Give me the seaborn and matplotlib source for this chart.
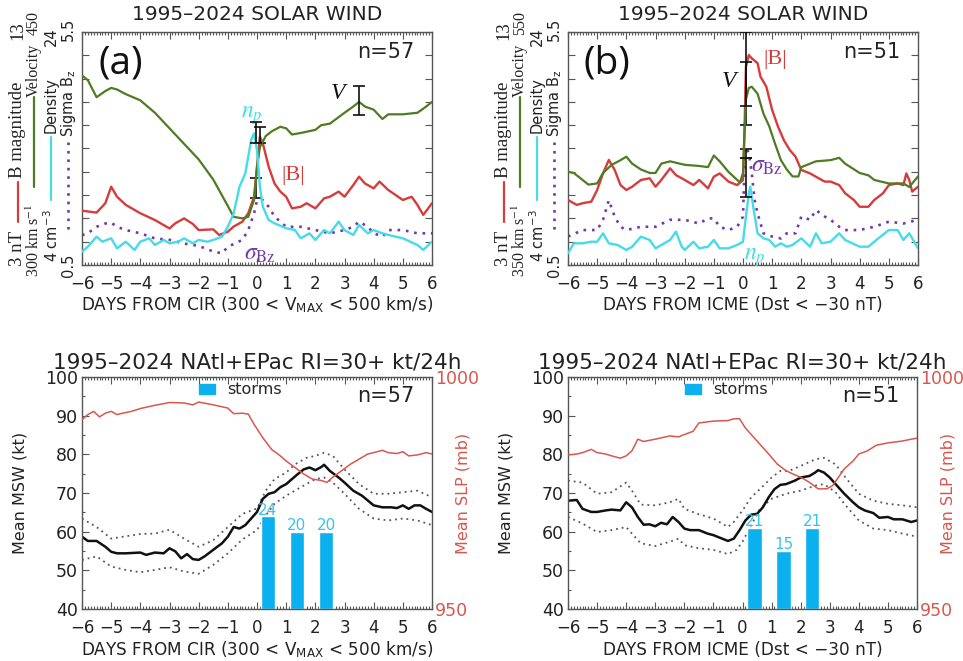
import numpy as np
import pandas as pd
import matplotlib
matplotlib.use("Agg")
import matplotlib.pyplot as plt
import seaborn as sns
from matplotlib.patches import Patch
from matplotlib.lines import Line2D
from matplotlib.ticker import MultipleLocator

sns.set_theme(style="white")
plt.rcParams["font.family"] = ["DejaVu Sans"]
plt.rcParams["mathtext.fontset"] = "stix"

# ---------------- DATA ----------------
# Panel (a): CIR superposed epoch, solar wind
a_V = [(-6, 422), (-5.8, 419), (-5.5, 408), (-5.2, 412), (-5, 414), (-4.8, 413), (-4.5, 410),
       (-4, 406), (-3.5, 398), (-3, 388), (-2.5, 378), (-2, 368), (-1.5, 355), (-1, 338),
       (-0.8, 331), (-0.5, 330), (-0.3, 331), (-0.1, 342), (0, 363), (0.1, 376), (0.3, 383),
       (0.5, 386), (0.8, 389), (1, 388), (1.2, 384), (1.5, 385), (2, 387), (2.2, 390),
       (2.5, 391), (3, 398), (3.3, 402), (3.5, 405), (3.7, 402), (4, 400), (4.3, 394),
       (4.5, 397), (5, 397), (5.5, 398), (5.8, 402), (6, 405)]
a_B = [(-6, 5.33), (-5.5, 5.25), (-5.2, 5.65), (-5, 6.36), (-4.8, 5.93), (-4.5, 5.58),
       (-4, 5.22), (-3.5, 4.93), (-3, 4.57), (-2.8, 4.79), (-2.5, 5.00), (-2.2, 4.76),
       (-2, 4.50), (-1.5, 4.53), (-1.3, 4.29), (-1, 4.43), (-0.8, 4.65), (-0.5, 4.86),
       (-0.3, 5.22), (-0.1, 5.93), (0, 7.22), (0.1, 8.51), (0.2, 8.22), (0.4, 7.22),
       (0.6, 6.50), (0.8, 6.15), (1, 5.93), (1.2, 5.43), (1.5, 5.50), (1.7, 5.65),
       (2, 5.43), (2.3, 5.86), (2.5, 5.93), (2.8, 6.15), (3, 5.93), (3.3, 6.43),
       (3.5, 6.79), (3.7, 6.50), (4, 6.29), (4.2, 6.58), (4.5, 6.22), (5, 5.79),
       (5.3, 5.93), (5.5, 5.58), (5.7, 5.15), (6, 5.65)]
a_N = [(-6, 5.14), (-5.8, 5.57), (-5.5, 6.43), (-5.3, 6.00), (-5, 6.29), (-4.8, 5.43),
       (-4.5, 6.00), (-4.2, 5.29), (-4, 6.00), (-3.7, 6.29), (-3.5, 5.72), (-3.2, 6.15),
       (-3, 5.86), (-2.7, 6.00), (-2.5, 6.29), (-2.2, 5.86), (-2, 6.15), (-1.7, 6.00),
       (-1.5, 6.15), (-1.2, 6.43), (-1, 7.29), (-0.8, 8.43), (-0.6, 10.72), (-0.4, 11.87),
       (-0.2, 14.73), (-0.1, 15.30), (0, 13.87), (0.1, 10.72), (0.2, 9.01), (0.4, 7.86),
       (0.6, 7.58), (1, 7.15), (1.3, 7.00), (1.5, 6.29), (1.8, 6.72), (2, 6.15),
       (2.3, 7.00), (2.5, 6.72), (2.8, 7.72), (3, 7.00), (3.3, 6.58), (3.5, 7.43),
       (3.8, 6.72), (4, 7.00), (4.3, 6.72), (4.5, 6.58), (5, 6.29), (5.5, 5.72),
       (5.7, 5.29), (6, 6.00)]
a_S = [(-6, 1.14), (-5.8, 1.18), (-5.5, 1.32), (-5.2, 1.39), (-5, 1.41), (-4.8, 1.32),
       (-4.5, 1.25), (-4, 1.18), (-3.5, 1.07), (-3, 1.04), (-2.5, 0.96), (-2, 0.91),
       (-1.5, 0.79), (-1.2, 0.75), (-1, 0.89), (-0.5, 1.04), (-0.3, 1.25), (-0.1, 1.61),
       (0, 1.89), (0.2, 1.89), (0.4, 1.75), (0.6, 1.54), (1, 1.32), (1.5, 1.32),
       (2, 1.25), (2.5, 1.18), (3, 1.25), (3.3, 1.32), (3.5, 1.43), (3.8, 1.32),
       (4, 1.18), (4.3, 1.11), (4.5, 1.25), (5, 1.25), (5.5, 1.18), (6, 1.18)]
# error bars: (day, centre, half-width)
a_err = {"V": (3.5, 405.9, 9.3), "B": (0.1, 8.58, 0.36), "N": (-0.05, 15.37, 0.93),
         "S": (-0.05, 2.145, 0.215)}

# Panel (b): ICME superposed epoch, solar wind
b_V = [(-6, 430), (-5.8, 429), (-5.5, 423), (-5.3, 419), (-5, 420), (-4.8, 429), (-4.5, 436),
       (-4.2, 440), (-4, 443), (-3.8, 437), (-3.5, 432), (-3.2, 429), (-3, 429), (-2.8, 437),
       (-2.5, 439), (-2, 436), (-1.5, 435), (-1.2, 434), (-1, 444), (-0.8, 439), (-0.5, 430),
       (-0.2, 423), (-0.1, 421), (0, 429), (0.05, 463), (0.1, 492), (0.2, 502), (0.3, 503),
       (0.5, 497), (0.7, 480), (0.9, 469), (1.1, 454), (1.3, 440), (1.5, 432), (1.7, 426),
       (1.9, 426), (2, 434), (2.3, 437), (2.5, 439), (3, 440), (3.3, 442), (3.5, 437),
       (4, 429), (4.3, 427), (4.5, 423), (5, 420), (5.5, 420), (5.7, 417), (6, 426)]
b_B = [(-6, 5.79), (-5.7, 5.58), (-5.5, 5.65), (-5.2, 5.72), (-5, 6.22), (-4.8, 6.93),
       (-4.6, 7.51), (-4.4, 7.08), (-4.2, 6.43), (-4, 6.22), (-3.8, 6.36), (-3.5, 6.65),
       (-3.2, 6.72), (-3, 6.36), (-2.8, 6.65), (-2.5, 7.15), (-2.3, 6.86), (-2, 6.65),
       (-1.7, 6.43), (-1.5, 6.65), (-1.2, 6.29), (-1, 6.79), (-0.8, 6.93), (-0.5, 6.58),
       (-0.2, 6.43), (0, 6.65), (0.05, 8.65), (0.1, 11.51), (0.2, 12.01), (0.3, 11.87),
       (0.5, 11.66), (0.6, 11.08), (0.7, 10.87), (0.8, 10.65), (1.0, 9.65), (1.2, 8.94),
       (1.4, 8.36), (1.6, 7.94), (1.8, 7.65), (2, 7.08), (2.3, 6.93), (2.5, 6.79),
       (2.8, 6.58), (3, 6.58), (3.3, 6.43), (3.5, 6.08), (3.8, 5.79), (4, 5.50),
       (4.3, 5.50), (4.5, 5.79), (4.8, 6.08), (5, 6.43), (5.3, 6.50), (5.5, 6.43),
       (5.6, 6.93), (5.7, 6.65), (5.8, 6.15), (6, 6.36)]
b_N = [(-6, 5.00), (-5.8, 5.86), (-5.5, 5.86), (-5.2, 6.00), (-5, 6.00), (-4.8, 6.72),
       (-4.6, 5.86), (-4.3, 5.72), (-4, 5.29), (-3.8, 5.57), (-3.5, 6.43), (-3.2, 6.15),
       (-3, 5.43), (-2.7, 5.86), (-2.5, 6.15), (-2.3, 6.86), (-2.1, 5.57), (-2, 5.29),
       (-1.7, 6.00), (-1.5, 5.43), (-1.2, 5.57), (-1, 6.15), (-0.8, 5.43), (-0.5, 5.43),
       (-0.2, 5.72), (0, 6.00), (0.1, 8.15), (0.2, 10.15), (0.25, 10.72), (0.35, 9.01),
       (0.5, 6.72), (0.7, 6.29), (0.9, 6.15), (1.1, 5.57), (1.3, 5.86), (1.5, 5.57),
       (1.7, 5.72), (2, 6.29), (2.3, 5.57), (2.5, 6.72), (2.7, 5.86), (3, 6.00),
       (3.3, 6.72), (3.5, 6.15), (4, 5.57), (4.3, 5.57), (4.5, 6.00), (5, 7.00),
       (5.3, 7.00), (5.5, 6.15), (5.7, 6.72), (6, 5.43)]
b_S = [(-6, 1.11), (-5.5, 1.25), (-5, 1.25), (-4.8, 1.47), (-4.6, 1.89), (-4.4, 1.54),
       (-4.2, 1.32), (-4, 1.25), (-3.5, 1.32), (-3, 1.32), (-2.5, 1.47), (-2, 1.47),
       (-1.5, 1.39), (-1.2, 1.50), (-1, 1.50), (-0.8, 1.32), (-0.5, 1.25), (-0.2, 1.32),
       (0, 1.54), (0.05, 2.61), (0.1, 3.04), (0.2, 2.90), (0.3, 2.47), (0.4, 1.89),
       (0.5, 1.61), (0.7, 1.18), (1, 1.11), (1.3, 1.07), (1.5, 1.18), (1.8, 1.18),
       (2, 1.54), (2.3, 1.47), (2.5, 1.68), (2.8, 1.54), (3, 1.47), (3.3, 1.32),
       (3.5, 1.25), (4, 1.25), (4.5, 1.32), (5, 1.43), (5.5, 1.39), (6, 1.47)]
b_err = {"V": (0.1, 518.4, 31.9), "B": (0.1, 10.36, 1.35), "N": (0.1, 11.52, 1.66),
         "S": (0.1, 2.895, 0.095)}

# Panel (c): CIR, tropical cyclones
c_msw = [(-6, 58.7), (-5.8, 57.6), (-5.5, 57.6), (-5.2, 56.1), (-5, 54.8), (-4.8, 54.4),
         (-4.5, 54.4), (-4, 54.6), (-3.8, 54.0), (-3.5, 54.6), (-3.2, 54.4), (-3, 55.7),
         (-2.8, 54.9), (-2.6, 53.1), (-2.4, 54.2), (-2.2, 52.9), (-2, 52.7), (-1.8, 53.6),
         (-1.5, 55.3), (-1.2, 57.0), (-1, 58.7), (-0.8, 61.2), (-0.6, 60.8), (-0.4, 61.7),
         (-0.2, 63.4), (0, 65.1), (0.2, 68.5), (0.4, 69.8), (0.6, 70.2), (0.8, 71.5),
         (1, 72.3), (1.2, 73.6), (1.4, 74.9), (1.6, 76.1), (1.8, 76.6), (2, 75.9),
         (2.2, 76.7), (2.3, 77.3), (2.5, 75.7), (2.8, 74.0), (3, 72.7), (3.3, 70.6),
         (3.6, 69.3), (4, 66.8), (4.3, 66.3), (4.6, 66.3), (4.8, 66.1), (5, 66.8),
         (5.2, 65.9), (5.4, 66.8), (5.6, 66.8), (5.8, 65.9), (6, 65.1)]
c_up = [(-6, 63.4), (-5.5, 61.2), (-5, 58.2), (-4.5, 58.8), (-4, 59.4), (-3.5, 59.5),
        (-3, 60.5), (-2.5, 58.2), (-2, 56.1), (-1.5, 57.8), (-1, 61.2), (-0.5, 64.6),
        (0, 66.0), (0.3, 70.6), (0.6, 73.6), (1, 75.3), (1.3, 77.4), (1.7, 79.1), (2, 79.6),
        (2.3, 80.4), (2.6, 79.6), (3, 76.1), (3.5, 72.3), (4, 69.8), (4.5, 69.8), (5, 70.2),
        (5.5, 70.6), (6, 68.9)]
c_lo = [(-6, 52.7), (-5.5, 53.6), (-5, 51.0), (-4.5, 50.1), (-4, 49.5), (-3.5, 50.1),
        (-3, 50.8), (-2.5, 49.7), (-2, 49.1), (-1.5, 51.4), (-1, 54.4), (-0.5, 58.0),
        (0, 60.4), (0.3, 64.2), (0.6, 67.2), (1, 69.3), (1.5, 71.5), (2, 73.6), (2.3, 74.0),
        (2.6, 72.7), (3, 69.8), (3.5, 65.9), (4, 63.4), (4.5, 62.9), (5, 63.4), (5.5, 62.9),
        (6, 61.7)]
c_slp = [(-6, 990.8), (-5.8, 991.9), (-5.6, 992.6), (-5.4, 991.4), (-5.2, 992.2), (-5, 992.6),
         (-4.8, 991.9), (-4.6, 992.2), (-4.3, 992.6), (-4, 993.2), (-3.5, 993.9), (-3, 994.5),
         (-2.5, 994.4), (-2.2, 994.0), (-2, 994.6), (-1.5, 994.0), (-1, 993.3), (-0.8, 992.1),
         (-0.5, 992.2), (-0.3, 992.0), (-0.1, 989.8), (0.2, 986.9), (0.5, 984.4),
         (0.8, 983.0), (1, 981.9), (1.3, 980.5), (1.6, 979.1), (1.9, 978.0), (2.2, 977.7),
         (2.4, 977.3), (2.6, 978.4), (2.9, 979.8), (3.2, 981.2), (3.5, 982.3), (3.8, 983.4),
         (4, 983.7), (4.3, 984.2), (4.5, 983.7), (4.8, 983.5), (5, 983.9), (5.2, 983.0),
         (5.5, 983.2), (5.8, 983.7), (6, 983.4)]
c_bar_day = [0.37, 1.37, 2.37]
c_storms = [24, 20, 20]

# Panel (d): ICME, tropical cyclones
d_msw = [(-6, 68.0), (-5.7, 68.2), (-5.5, 65.9), (-5.2, 65.1), (-5, 65.1), (-4.7, 65.5),
         (-4.5, 65.7), (-4.2, 65.5), (-4, 67.6), (-3.8, 66.3), (-3.6, 63.8), (-3.4, 61.8),
         (-3.2, 61.9), (-3, 61.4), (-2.8, 62.3), (-2.6, 61.9), (-2.4, 63.8), (-2.2, 62.5),
         (-2, 60.8), (-1.8, 60.4), (-1.5, 60.4), (-1.2, 59.5), (-1, 59.1), (-0.7, 58.2),
         (-0.5, 57.6), (-0.3, 58.2), (-0.1, 60.4), (0.1, 62.9), (0.3, 64.4), (0.5, 64.6),
         (0.7, 66.3), (0.9, 68.9), (1.1, 71.0), (1.3, 72.1), (1.5, 72.3), (1.8, 73.2),
         (2, 74.0), (2.3, 74.4), (2.5, 75.3), (2.6, 75.9), (2.8, 75.3), (3, 74.0),
         (3.2, 72.3), (3.5, 69.8), (3.8, 67.6), (4, 66.3), (4.2, 65.5), (4.5, 64.8),
         (4.7, 63.6), (5, 63.8), (5.2, 63.2), (5.5, 63.2), (5.8, 62.5), (6, 62.9)]
d_up = [(-6, 73.2), (-5.5, 72.7), (-5, 69.8), (-4.5, 70.2), (-4, 72.7), (-3.8, 70.6),
        (-3.5, 67.0), (-3, 66.8), (-2.5, 67.6), (-2.2, 68.5), (-2, 65.9), (-1.5, 64.5),
        (-1, 63.4), (-0.5, 61.2), (-0.3, 62.5), (0, 65.5), (0.3, 68.9), (0.6, 71.0),
        (1, 74.0), (1.3, 75.7), (1.6, 75.7), (2, 77.0), (2.5, 78.7), (2.8, 79.1),
        (3.2, 77.4), (3.5, 74.4), (4, 69.8), (4.5, 68.0), (5, 67.2), (5.5, 66.8), (6, 66.3)]
d_lo = [(-6, 63.8), (-5.5, 62.1), (-5, 59.9), (-4.5, 60.4), (-4, 61.2), (-3.8, 59.5),
        (-3.5, 57.0), (-3, 56.3), (-2.5, 57.4), (-2.2, 58.2), (-2, 56.5), (-1.5, 55.7),
        (-1, 55.3), (-0.5, 54.2), (-0.2, 55.3), (0, 57.4), (0.3, 61.7), (0.6, 65.9),
        (1, 68.5), (1.5, 69.8), (2, 70.6), (2.5, 71.9), (2.8, 72.3), (3.2, 70.2),
        (3.5, 67.2), (4, 62.9), (4.5, 60.8), (5, 60.4), (5.5, 59.5), (6, 58.7)]
d_slp = [(-6, 983.2), (-5.7, 983.4), (-5.5, 983.7), (-5.2, 984.4), (-5, 983.7), (-4.7, 983.4),
         (-4.5, 983.0), (-4.2, 982.5), (-4, 983.0), (-3.8, 984.1), (-3.6, 986.6),
         (-3.4, 986.1), (-3, 986.6), (-2.5, 987.3), (-2.2, 987.1), (-2, 987.6), (-1.7, 988.3),
         (-1.5, 990.1), (-1, 990.5), (-0.5, 990.6), (-0.3, 991.0), (-0.1, 991.0),
         (0.1, 989.0), (0.3, 987.6), (0.6, 985.5), (0.9, 983.4), (1.2, 981.2), (1.5, 979.8),
         (1.8, 978.9), (2, 978.4), (2.3, 977.3), (2.6, 975.9), (2.9, 975.9), (3.1, 976.6),
         (3.3, 978.4), (3.5, 980.2), (3.8, 981.9), (4, 983.4), (4.3, 984.1), (4.6, 985.3),
         (5, 985.8), (5.5, 986.2), (5.8, 986.6), (6, 986.8)]
d_bar_day = [0.42, 1.41, 2.39]
d_storms = [21, 15, 21]

# ---------------- STYLE ----------------
RED = "#d63c3c"
GREEN = "#4f7c22"
CYAN = "#45dbe9"
PURPLE = "#7338a8"
BAR = "#0bb0ee"
BARTXT = "#38c3ee"
SLPRED = "#d8574e"
SPINE = "#555555"
DOT = (0, (1, 2.2))

W, H = 963, 661
fig = plt.figure(figsize=(W / 100, H / 100), dpi=100)


def rect(l, t, r, b):
    return [l / W, 1 - b / H, (r - l) / W, (b - t) / H]


def split(pts):
    x, y = zip(*pts)
    return np.array(x, float), np.array(y, float)


def line(ax, pts, **kw):
    x, y = split(pts)
    sns.lineplot(x=x, y=y, ax=ax, sort=False, estimator=None, legend=False, **kw)


def frame(ax, ymajor, yminor=None):
    ax.set_xlim(-6, 6)
    ax.xaxis.set_major_locator(MultipleLocator(1))
    ax.xaxis.set_minor_locator(MultipleLocator(0.1))
    ax.yaxis.set_major_locator(MultipleLocator(ymajor))
    if yminor:
        ax.yaxis.set_minor_locator(MultipleLocator(yminor))
    ax.tick_params(which="both", direction="in", top=True, right=True, left=True,
                   bottom=True, color=SPINE, width=0.8)
    ax.tick_params(which="major", length=5)
    ax.tick_params(which="minor", length=2.5)
    ax.tick_params(axis="x", labelsize=12, pad=7, labelcolor="#222222")
    for s in ax.spines.values():
        s.set_color(SPINE)
        s.set_linewidth(1.0)
    ax.set_xlabel("")
    ax.set_ylabel("")


def col_text(x, y, s, ha, **kw):
    fig.text(x / W, 1 - y / H, s, rotation=90, rotation_mode="anchor", ha=ha,
             va="center", color="#222222", **kw)


def col_line(x, y1, y2, **kw):
    fig.add_artist(Line2D([x / W, x / W], [1 - y1 / H, 1 - y2 / H], **kw))


def solar(ax, V, B, N, S, vlim, err, L, letter, n, xlabel, vlo, vhi, marks):
    axB = ax.twinx()
    axV = ax.twinx()
    axN = ax.twinx()
    line(ax, S, color=PURPLE, lw=1.9, linestyle=DOT)
    line(axV, V, color=GREEN, lw=1.6)
    line(axB, B, color=RED, lw=1.7)
    line(axN, N, color=CYAN, lw=1.7)
    for t, key in ((axV, "V"), (axB, "B"), (axN, "N"), (ax, "S")):
        x, c, e = err[key]
        t.errorbar([x], [c], yerr=[e], fmt="none", ecolor="#111111", elinewidth=1.2,
                   capsize=4, capthick=1.2, zorder=5)
    ax.set_ylim(0.5, 5.5)
    axB.set_ylim(3, 13)
    axV.set_ylim(*vlim)
    axN.set_ylim(4, 24)
    for t in (axB, axV, axN):
        t.axis("off")
    frame(ax, 0.5)
    ax.tick_params(axis="y", labelleft=False, labelright=False)
    ax.set_xlim(-6, 6)
    ax.text(0.5, 1.077, "1995\u20132024 SOLAR WIND", transform=ax.transAxes, ha="center",
            va="center", fontsize=14.5, color="#222222")
    ax.text(0.5, -0.172, xlabel, transform=ax.transAxes, ha="center", va="center",
            fontsize=12.2, color="#222222")
    ax.text(0.11, 0.865, letter, transform=ax.transAxes, ha="center", va="center",
            fontsize=28, family="Open Sans", color="#111111")
    ax.text(0.95, 0.915, n, transform=ax.transAxes, ha="right", va="center",
            fontsize=15, color="#222222")
    tr = ax.get_xaxis_transform()
    (vx, vy), (bx, by), (nx, ny), (sx, sy) = marks
    ax.text(vx, vy, "V", transform=tr, ha="center", va="center", fontsize=17,
            family="Liberation Serif", style="italic", color="#111111")
    ax.text(bx, by, "|B|", transform=tr, ha="center", va="center", fontsize=16,
            family="Liberation Serif", color=RED)
    ax.text(nx, ny, r"$n_p$", transform=tr, ha="center", va="center", fontsize=17,
            color=CYAN)
    ax.text(sx, sy, r"$\sigma_{\mathrm{Bz}}$", transform=tr, ha="center", va="center",
            fontsize=17, color=PURPLE)
    # left multi-axis legend columns
    serif1 = dict(family="Liberation Serif", fontsize=13.5)
    serif2 = dict(family="Liberation Serif", fontsize=11.5)
    sans = dict(fontsize=10.5)
    x1, x2, x3, x4 = L - 64, L - 48, L - 31, L - 14
    col_text(x1, 266, "3 nT", "left", **serif1)
    col_line(x1, 182, 222, color=RED, lw=1.6)
    col_text(x1, 178, "B magnitude", "left", **serif1)
    col_text(x1, 21, "13", "right", **serif1)
    col_text(x2, 277, vlo + r" km s$^{-1}$", "left", **serif2)
    col_line(x2, 97, 187, color=GREEN, lw=1.6)
    col_text(x2, 97, "Velocity", "left", **serif2)
    col_text(x2, 11, vhi, "right", **serif2)
    col_text(x3, 262, r"4 cm$^{\mathregular{-3}}$", "left", **sans)
    col_line(x3, 137, 200, color=CYAN, lw=1.6)
    col_text(x3, 133, "Density", "left", **sans)
    col_text(x3, 27, "24", "right", **sans)
    col_text(x4, 277, "0.5", "left", **sans)
    col_line(x4, 142, 233, color=PURPLE, lw=1.9, linestyle=DOT)
    col_text(x4, 137, r"Sigma B$_{\mathregular{z}}$", "left", **sans)
    col_text(x4, 18, "5.5", "right", **sans)


def cyclone(ax, msw, up, lo, slp, bar_day, storms, n, xlabel):
    line(ax, up, color="#555555", lw=1.3, linestyle=DOT)
    line(ax, lo, color="#555555", lw=1.3, linestyle=DOT)
    bars = ax.bar(bar_day, storms, bottom=40, width=0.5, color=BAR, zorder=2)
    ax.bar_label(bars, labels=[str(s) for s in storms], color=BARTXT, fontsize=11,
                 padding=-1)
    line(ax, msw, color="#111111", lw=1.8)
    ax.set_ylim(40, 100)
    frame(ax, 10, 5)
    ax.tick_params(axis="y", labelsize=12.5, pad=3, labelcolor="#222222")
    ax.set_xlim(-6, 6)
    ax.set_ylabel("Mean MSW (kt)", fontsize=11.5, color="#222222")
    ax.yaxis.set_label_coords(-0.157, 0.5)
    ax2 = ax.twinx()
    line(ax2, slp, color=SLPRED, lw=1.1)
    ax2.set_ylim(950, 1000)
    ax2.set_yticks([950, 1000])
    ax2.tick_params(axis="y", length=0, pad=2, labelsize=12.5, labelcolor=SLPRED)
    ax2.set_xlabel("")
    ax2.set_ylabel("Mean SLP (mb)", fontsize=11.5, color=SLPRED, rotation=90)
    ax2.yaxis.set_label_coords(1.068, 0.5)
    for s in ax2.spines.values():
        s.set_visible(False)
    ax.text(0.5, 1.064, "1995\u20132024 NAtl+EPac RI=30+ kt/24h", transform=ax.transAxes,
            ha="center", va="center", fontsize=15.5, color="#222222")
    ax.text(0.5, -0.176, xlabel, transform=ax.transAxes, ha="center", va="center",
            fontsize=12.2, color="#222222")
    ax.text(0.95, 0.918, n, transform=ax.transAxes, ha="right", va="center",
            fontsize=15, color="#222222")
    ax.legend(handles=[Patch(color=BAR, label="storms")], loc="center left",
              bbox_to_anchor=(0.334, 0.944), frameon=False, fontsize=11.5,
              handlelength=1.0, handleheight=0.6, borderpad=0, borderaxespad=0,
              handletextpad=0.8)


cir_label = r"DAYS FROM CIR (300 < V$_{\mathregular{MAX}}$ < 500 km/s)"
icme_label = "DAYS FROM ICME (Dst < \u221230 nT)"

axa = fig.add_axes(rect(82, 32, 432, 265))
solar(axa, a_V, a_B, a_N, a_S, (300, 450), a_err, 82, "(a)", "n=57", cir_label,
      "300", "450", [(2.78, 0.737), (1.24, 0.386), (-0.19, 0.644), (0.1, 0.05)])

axb = fig.add_axes(rect(568, 32, 918, 265))
solar(axb, b_V, b_B, b_N, b_S, (350, 550), b_err, 568, "(b)", "n=51", icme_label,
      "350", "550", [(-0.49, 0.787), (1.11, 0.88), (0.42, 0.036), (0.82, 0.43)])

axc = fig.add_axes(rect(82, 377, 432, 609))
cyclone(axc, c_msw, c_up, c_lo, c_slp, c_bar_day, c_storms, "n=57", cir_label)

axd = fig.add_axes(rect(568, 377, 917, 609))
cyclone(axd, d_msw, d_up, d_lo, d_slp, d_bar_day, d_storms, "n=51", icme_label)

fig.savefig("out.png", dpi=100)
